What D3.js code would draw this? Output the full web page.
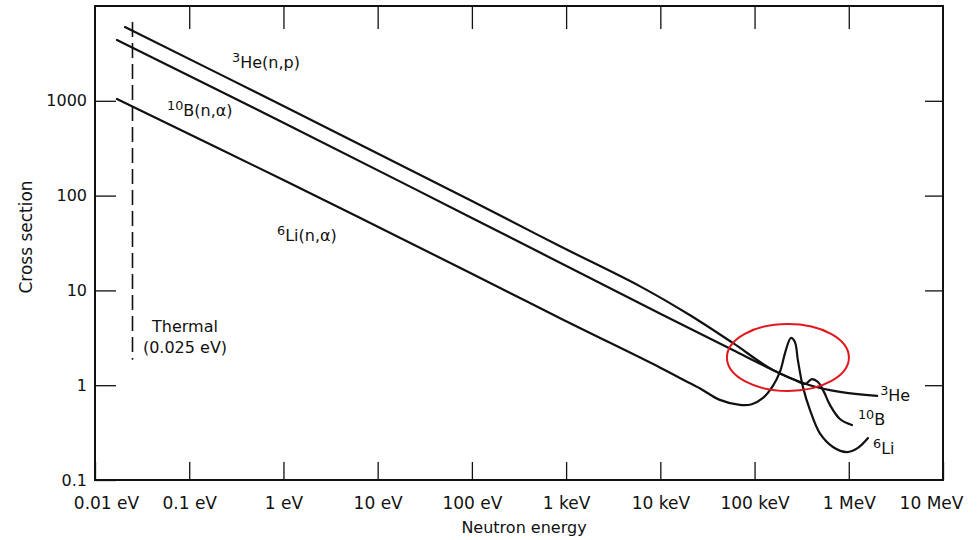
<!DOCTYPE html>
<html>
<head>
<meta charset="utf-8">
<script src="https://cdn.jsdelivr.net/npm/d3@7"></script>
<style>
  html, body { margin: 0; padding: 0; background: #fff; }
  svg { display: block; font-family: "DejaVu Sans", sans-serif; }
</style>
</head>
<body>
<script>
// Axis ticks (neutron energy in eV, cross section in barns)
const energyTicks  = [0.01, 0.1, 1, 10, 100, 1e3, 1e4, 1e5, 1e6, 1e7];
const energyLabels = ["0.01 eV", "0.1 eV", "1 eV", "10 eV", "100 eV", "1 keV", "10 keV", "100 keV", "1 MeV", "10 MeV"];
const sigmaTicks   = [0.1, 1, 10, 100, 1000];
const sigmaLabels  = ["0.1", "1", "10", "100", "1000"];

// 3He(n,p)
const he3Energy = [0.0208, 1, 100, 853, 6040, 20500, 58800, 156000, 387000, 806000, 2.0e6];
const he3Sigma  = [6000, 881, 87.7, 29.4, 11.1, 5.50, 2.79, 1.45, 1.00, 0.85, 0.77];

// 10B(n,alpha)
const b10Energy = [0.0171, 1, 100, 10000, 58800, 156000, 268000, 343000, 406000, 471000, 545000, 631000, 806000, 1.08e6];
const b10Sigma  = [4380, 588, 58.1, 5.68, 2.35, 1.45, 1.135, 1.03, 1.16, 1.08, 0.85, 0.62, 0.44, 0.38];

// 6Li(n,alpha)
const li6Energy = [0.0171, 1, 100, 853, 10000, 16100, 26200, 42800, 69800, 93500, 122000, 156000, 186000, 215000, 243000, 268000, 288000, 326000, 387000, 494000, 679000, 957000, 1.25e6, 1.60e6];
const li6Sigma  = [1045, 146, 15.0, 5.12, 1.53, 1.19, 0.93, 0.70, 0.62, 0.63, 0.73, 0.98, 1.38, 2.35, 3.15, 2.86, 1.85, 0.96, 0.55, 0.31, 0.223, 0.197, 0.218, 0.277];

// Thermal energy marker
const thermalEnergy = 0.025;
const thermalSpan = [1.85, 6800];

// Highlighted resonance region (centre)
const highlightEnergy = 226000;
const highlightSigma = 1.96;

const W = 979, H = 540;
const plot = { left: 95, right: 943, top: 6, bottom: 480 };
const ink = "#111";

const svg = d3.select("body").append("svg")
  .attr("width", W).attr("height", H);

const x = d3.scaleLog().domain([0.01, 1e7]).range([plot.left, plot.right]);
const y = d3.scaleLog().domain([0.1, 10000]).range([plot.bottom, plot.top]);

// Inward-facing ticks on all four sides
function styleAxis(g) {
  g.select(".domain").remove();
  g.selectAll(".tick line").attr("stroke", ink).attr("stroke-width", 1.3);
  g.selectAll(".tick text").attr("fill", ink).attr("font-family", "DejaVu Sans, sans-serif");
}

svg.append("g")
  .attr("transform", `translate(0,${plot.bottom})`)
  .call(d3.axisBottom(x).tickValues(energyTicks)
    .tickFormat((d, i) => energyLabels[i]).tickSize(-18).tickPadding(17))
  .call(styleAxis)
  .call(g => g.selectAll(".tick text")
    .attr("font-size", 17)
    .attr("dx", (d, i) => i === 0 ? 11 : (i === energyTicks.length - 1 ? -12 : 0)));

svg.append("g")
  .attr("transform", `translate(0,${plot.top})`)
  .call(d3.axisTop(x).tickValues(energyTicks.slice(1, -1)).tickFormat("").tickSize(-23))
  .call(styleAxis);

svg.append("g")
  .attr("transform", `translate(${plot.left},0)`)
  .call(d3.axisLeft(y).tickValues(sigmaTicks)
    .tickFormat((d, i) => sigmaLabels[i]).tickSize(-21).tickPadding(8))
  .call(styleAxis)
  .call(g => g.selectAll(".tick text").attr("font-size", 16));

svg.append("g")
  .attr("transform", `translate(${plot.right},0)`)
  .call(d3.axisRight(y).tickValues(sigmaTicks.slice(1)).tickFormat("").tickSize(-18))
  .call(styleAxis);

// Plot frame
svg.append("rect")
  .attr("x", plot.left).attr("y", plot.top)
  .attr("width", plot.right - plot.left).attr("height", plot.bottom - plot.top)
  .attr("fill", "none").attr("stroke", ink).attr("stroke-width", 2);

// Thermal marker
svg.append("line")
  .attr("x1", x(thermalEnergy)).attr("x2", x(thermalEnergy))
  .attr("y1", y(thermalSpan[1])).attr("y2", y(thermalSpan[0]))
  .attr("stroke", ink).attr("stroke-width", 1.6)
  .attr("stroke-dasharray", "15,6");

// Cross-section curves
const line = d3.line()
  .x(d => x(d[0])).y(d => y(d[1]))
  .curve(d3.curveCatmullRom.alpha(0.5));

const series = [
  { name: "he3", e: he3Energy, s: he3Sigma },
  { name: "b10", e: b10Energy, s: b10Sigma },
  { name: "li6", e: li6Energy, s: li6Sigma }
];

svg.append("g").selectAll("path")
  .data(series)
  .join("path")
  .attr("d", d => line(d.e.map((e, i) => [e, d.s[i]])))
  .attr("fill", "none")
  .attr("stroke", ink)
  .attr("stroke-width", 2.2)
  .attr("stroke-linejoin", "round")
  .attr("stroke-linecap", "round");

// Labels with a raised mass number
function isotopeLabel(px, py, mass, rest, size) {
  const t = svg.append("text")
    .attr("x", px).attr("y", py)
    .attr("font-size", size).attr("fill", ink);
  t.append("tspan").text(mass).attr("font-size", size * 0.8).attr("dy", -size * 0.36);
  t.append("tspan").text(rest).attr("dy", size * 0.36);
  return t;
}

isotopeLabel(232, 68, "3", "He(n,p)", 16);
isotopeLabel(167, 116, "10", "B(n,\u03b1)", 16);
isotopeLabel(277, 241, "6", "Li(n,\u03b1)", 16);

// End-of-curve labels
const endOf = s => [x(s.e[s.e.length - 1]), y(s.s[s.s.length - 1])];
{
  const [hx, hy] = endOf(series[0]);
  isotopeLabel(hx + 3, hy + 5, "3", "He", 16);
  const [bx, by] = endOf(series[1]);
  isotopeLabel(bx + 6, by, "10", "B", 16);
  const [lx, ly] = endOf(series[2]);
  isotopeLabel(lx + 5, ly + 16, "6", "Li", 16);
}

// Thermal annotation
svg.append("text").attr("x", 185).attr("y", 332)
  .attr("text-anchor", "middle").attr("font-size", 16).attr("fill", ink)
  .text("Thermal");
svg.append("text").attr("x", 185).attr("y", 353)
  .attr("text-anchor", "middle").attr("font-size", 16).attr("fill", ink)
  .text("(0.025 eV)");

// Axis titles
svg.append("text")
  .attr("x", 524).attr("y", 533)
  .attr("text-anchor", "middle").attr("font-size", 16).attr("fill", ink)
  .text("Neutron energy");

svg.append("text")
  .attr("transform", "translate(32,237) rotate(-90)")
  .attr("text-anchor", "middle").attr("font-size", 17).attr("fill", ink)
  .text("Cross section");

// Highlight ring around the resonance crossing
svg.append("ellipse")
  .attr("cx", x(highlightEnergy)).attr("cy", y(highlightSigma))
  .attr("rx", 61).attr("ry", 33.5)
  .attr("fill", "none").attr("stroke", "#e3161c").attr("stroke-width", 2);
</script>
</body>
</html>
